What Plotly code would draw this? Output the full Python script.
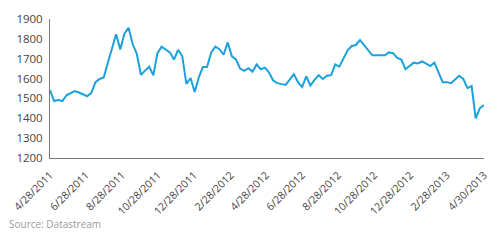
import plotly.graph_objects as go
import pandas as pd

start_date = "2011-04-28"
index_values = [
    1541, 1487, 1492, 1487, 1516, 1527, 1537, 1530, 1520, 1511,
    1528, 1582, 1598, 1606, 1680, 1750, 1823, 1747, 1826, 1856,
    1774, 1725, 1619, 1640, 1660, 1617, 1728, 1761, 1748, 1732,
    1696, 1745, 1712, 1573, 1603, 1532, 1606, 1658, 1658, 1732,
    1761, 1748, 1720, 1782, 1712, 1696, 1650, 1639, 1652, 1635,
    1671, 1647, 1655, 1630, 1590, 1577, 1572, 1568, 1595, 1622,
    1582, 1557, 1611, 1565, 1593, 1617, 1598, 1614, 1617, 1671,
    1660, 1705, 1742, 1764, 1769, 1794, 1769, 1743, 1717, 1717,
    1717, 1717, 1732, 1728, 1704, 1696, 1647, 1666, 1680, 1676,
    1686, 1675, 1663, 1680, 1630, 1582, 1582, 1577, 1595, 1614,
    1598, 1552, 1562, 1399, 1451, 1467,
]
tick_dates = ["2011-04-28", "2011-06-28", "2011-08-28", "2011-10-28", "2011-12-28",
              "2012-02-28", "2012-04-28", "2012-06-28", "2012-08-28", "2012-10-28",
              "2012-12-28", "2013-02-28", "2013-05-02"]
tick_labels = ["4/28/2011", "6/28/2011", "8/28/2011", "10/28/2011", "12/28/2011",
               "2/28/2012", "4/28/2012", "6/28/2012", "8/28/2012", "10/28/2012",
               "12/28/2012", "2/28/2013", "4/30/2013"]
y_ticks = [1200, 1300, 1400, 1500, 1600, 1700, 1800, 1900]

dates = pd.date_range(start_date, periods=len(index_values), freq="7D")

fig = go.Figure()
fig.add_trace(go.Scatter(x=dates, y=index_values, mode="lines",
                         line=dict(color="#1ba1dc", width=2), showlegend=False))

fig.update_layout(
    width=501, height=245,
    margin=dict(l=44, r=11, t=15, b=87),
    paper_bgcolor="white", plot_bgcolor="white",
    font=dict(family="Open Sans", size=11, color="#444444"),
    xaxis=dict(type="date", range=[dates[0], dates[-1]], tickvals=tick_dates,
               ticktext=tick_labels, tickangle=-45, showgrid=False, zeroline=False,
               showline=True, linecolor="#777777", linewidth=1, ticks="",
               ticklabelstandoff=6,
               tickfont=dict(size=10.5, color="#444444")),
    yaxis=dict(range=[1200, 1900], tickvals=y_ticks, showgrid=False, zeroline=False,
               showline=True, linecolor="#777777", linewidth=1, ticks="",
               ticklabelstandoff=4,
               tickfont=dict(size=11.5, color="#444444")),
)
fig.add_annotation(text="Source: Datastream", xref="paper", yref="paper",
                   x=-44/446, y=-(226-158)/143, xanchor="left", yanchor="middle",
                   showarrow=False, font=dict(size=10, color="#999999"))

fig.write_html("out.html")
